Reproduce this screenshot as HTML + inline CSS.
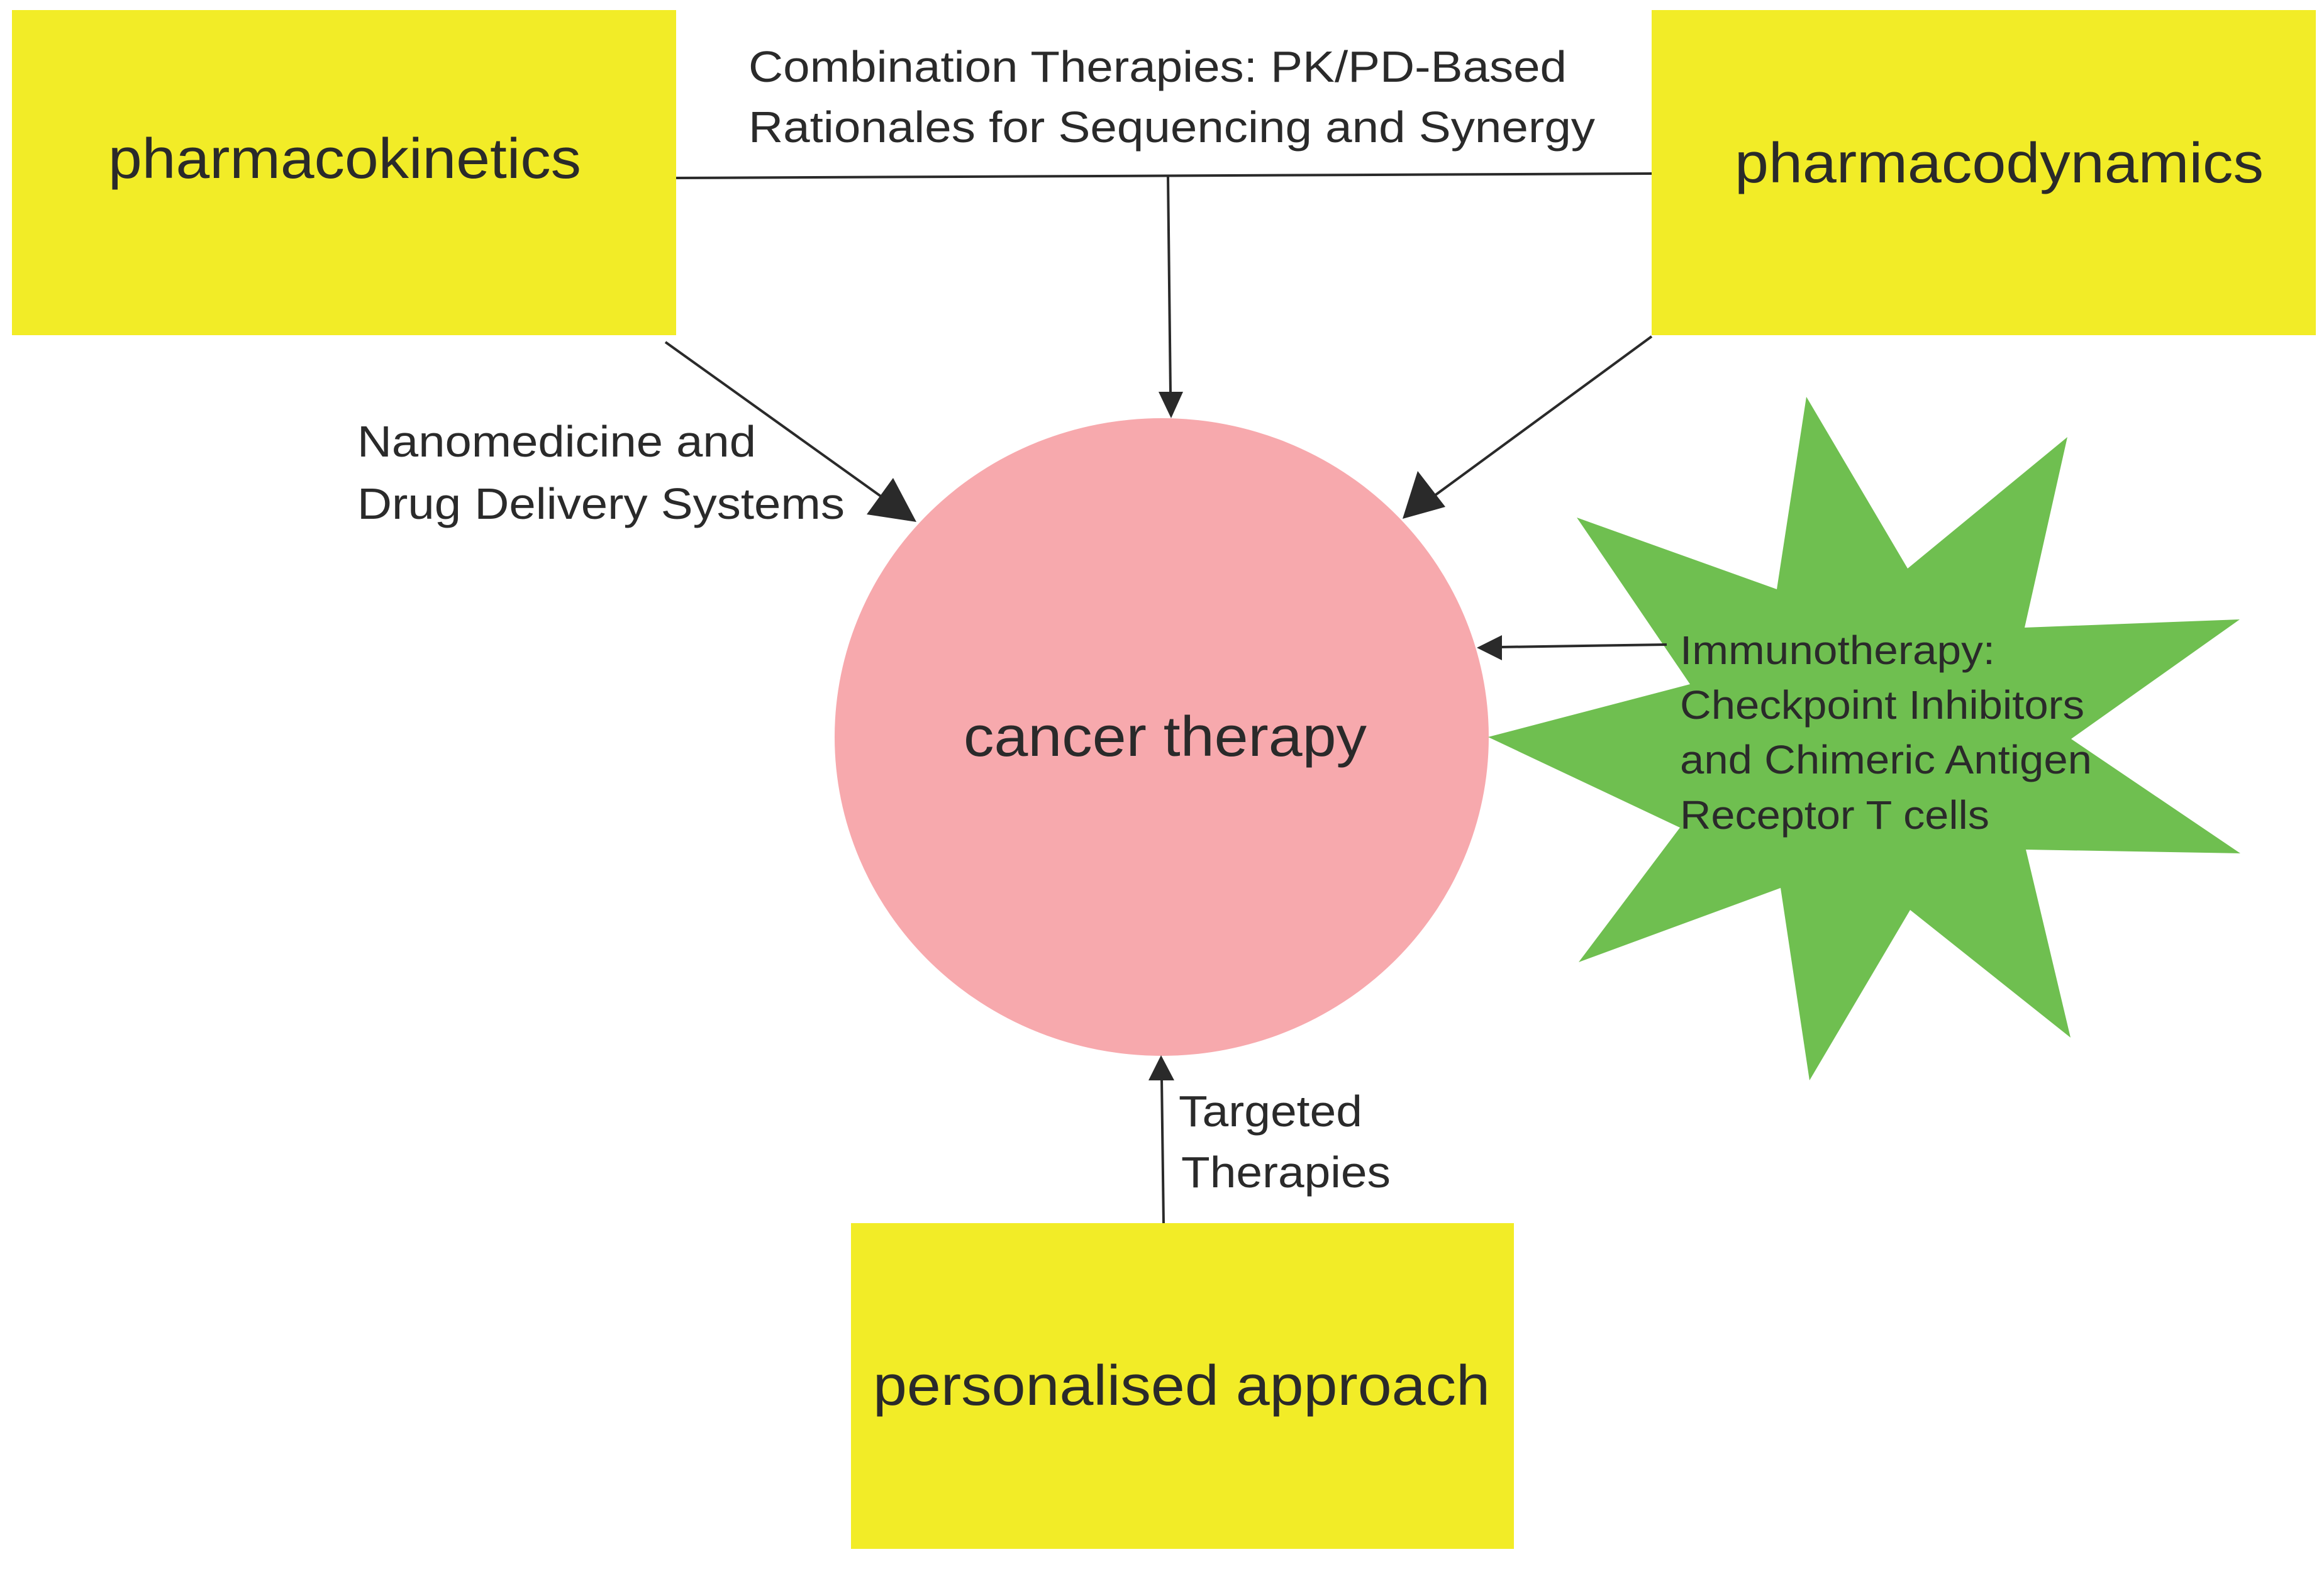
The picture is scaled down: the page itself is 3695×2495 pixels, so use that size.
<!DOCTYPE html>
<html><head><meta charset="utf-8"><style>
html,body{margin:0;padding:0;background:#fff;}
svg{display:block;}
text{font-family:"Liberation Sans",sans-serif;fill:#2a2a2a;}
</style></head><body>
<svg width="3695" height="2495" viewBox="0 0 3695 2495" xmlns="http://www.w3.org/2000/svg">
<rect x="19" y="16" width="1056" height="517" fill="#f2ec27"/>
<rect x="2626" y="16" width="1056" height="517" fill="#f2ec27"/>
<rect x="1353" y="1945" width="1054" height="518" fill="#f2ec27"/>
<ellipse cx="1847" cy="1172" rx="520" ry="507" fill="#f7a9ad"/>
<polygon fill="#6fbf50" points="2872,631 3033,904 3287,695 3219,998 3561,985 3293,1175 3562,1357 3221,1351 3292,1650 3037,1447 2877,1718 2831,1412 2510,1530 2671,1316 2366,1172 2687,1088 2507,823 2825,937"/>
<g stroke="#2a2a2a" stroke-width="4" fill="none">
<line x1="1075" y1="283" x2="2626" y2="276"/>
<line x1="1857" y1="280" x2="1861" y2="625"/>
<line x1="1058" y1="544" x2="1410" y2="796"/>
<line x1="2626" y1="535" x2="2277" y2="791"/>
<line x1="1850" y1="1945" x2="1847" y2="1715"/>
<line x1="2650" y1="1025" x2="2385" y2="1029"/>
</g>
<g fill="#2a2a2a">
<polygon points="1862,665 1842,623 1881,623"/>
<polygon points="1457,830 1378,818 1420,760"/>
<polygon points="2230,825 2254,749 2298,806"/>
<polygon points="1846,1678 1826,1718 1867,1718"/>
<polygon points="2348,1030 2388,1010 2388,1050"/>
</g>
<text x="172" y="283" font-size="90" textLength="752" lengthAdjust="spacingAndGlyphs">pharmacokinetics</text>
<text x="2758" y="290" font-size="90" textLength="841" lengthAdjust="spacingAndGlyphs">pharmacodynamics</text>
<text x="1532" y="1202" font-size="90" textLength="641" lengthAdjust="spacingAndGlyphs">cancer therapy</text>
<text x="1388" y="2234" font-size="90" textLength="981" lengthAdjust="spacingAndGlyphs">personalised approach</text>
<text x="1190" y="130" font-size="70" textLength="1301" lengthAdjust="spacingAndGlyphs">Combination Therapies: PK/PD-Based</text>
<text x="1190" y="226" font-size="70" textLength="1346" lengthAdjust="spacingAndGlyphs">Rationales for Sequencing and Synergy</text>
<text x="568" y="726" font-size="70" textLength="634" lengthAdjust="spacingAndGlyphs">Nanomedicine and</text>
<text x="568" y="825" font-size="70" textLength="775" lengthAdjust="spacingAndGlyphs">Drug Delivery Systems</text>
<text x="1874" y="1791" font-size="70" textLength="292" lengthAdjust="spacingAndGlyphs">Targeted</text>
<text x="1878" y="1888" font-size="70" textLength="333" lengthAdjust="spacingAndGlyphs">Therapies</text>
<text x="2671" y="1056" font-size="64" textLength="501" lengthAdjust="spacingAndGlyphs">Immunotherapy:</text>
<text x="2671" y="1143" font-size="64" textLength="643" lengthAdjust="spacingAndGlyphs">Checkpoint Inhibitors</text>
<text x="2671" y="1230" font-size="64" textLength="655" lengthAdjust="spacingAndGlyphs">and Chimeric Antigen</text>
<text x="2671" y="1318" font-size="64" textLength="492" lengthAdjust="spacingAndGlyphs">Receptor T cells</text>
</svg>
</body></html>
